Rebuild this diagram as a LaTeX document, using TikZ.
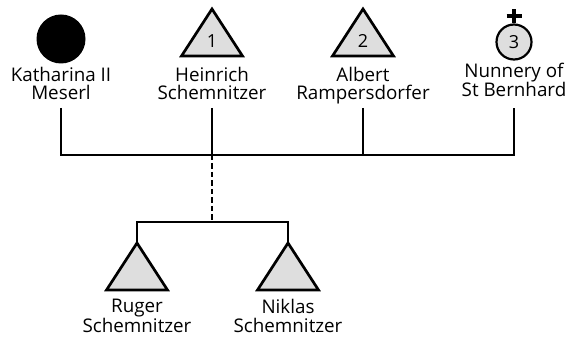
\documentclass[tikz,border=0pt]{standalone}
\usepackage{fontspec}
\setmainfont{Open Sans}
\begin{document}
\begin{tikzpicture}[x=1pt,y=-1pt,
  line/.style={line width=2.7pt},
  lbl/.style={align=center,inner sep=0pt,anchor=base,
    font=\fontsize{18.8}{18.5}\selectfont},
  num/.style={inner sep=0pt,font=\fontsize{18}{18}\selectfont},
  male/.pic={
    \draw[line width=2.7pt,line join=miter,fill=black!13]
      (0,0) coordinate (-apex) -- (30.5,47) -- (-30.5,47) -- cycle;
    \node[num] (-num) at (0,32) {\tikzpictext};
  }]
\useasboundingbox (0,0) rectangle (578,339);

% parents' generation
\node[circle,fill=black,minimum size=49pt,inner sep=0pt] (kath) at (61,39) {};
\pic[pic text=1] (hein) at (212,9) {male};
\pic[pic text=2] (albe) at (363,9) {male};
\node[circle,draw,line width=2.2pt,fill=black!13,minimum size=35pt,inner sep=0pt,
  font=\fontsize{18}{18}\selectfont] (nun) at (514,42) {3};
\draw[line width=3.8pt] (nun.north) -- ++(0,-14) coordinate (nun-top);
\draw[line width=3.8pt] ([xshift=-7.5pt,yshift=-7pt]nun-top) coordinate (cross-l)
  -- ([xshift=7.5pt,yshift=-7pt]nun-top) coordinate (cross-r);

% names (anchored at the baseline of the last line)
\node[lbl] (kath-l) at (61,100) {Katharina II\\Meserl};
\node[lbl] (hein-l) at (212,100) {Heinrich\\Schemnitzer};
\node[lbl] (albe-l) at (363,100) {Albert\\Rampersdorfer};
\node[lbl] (nun-l) at (514,97) {Nunnery of\\St Bernhard};

% marriage bar
\coordinate (bar-k) at (61,155);
\coordinate (bar-h) at (212,155);
\coordinate (bar-a) at (363,155);
\coordinate (bar-n) at (514,155);
\draw[line,line join=miter] (61,108) -- (bar-k) -- (bar-n) -- (514,108);
\draw[line] (212,108) -- (bar-h);
\draw[line] (363,108) -- (bar-a);

% children
\pic (rug) at (137,243) {male};
\pic (nik) at (288,243) {male};
\node[lbl] (rug-l) at (137,332) {Ruger\\Schemnitzer};
\node[lbl] (nik-l) at (288,332) {Niklas\\Schemnitzer};

\coordinate (sib) at (212,222);
\draw[line,dash pattern=on 5.5pt off 3pt] (bar-h) -- (sib);
\draw[line,line join=miter] (rug-apex) -- (rug-apex |- sib) -- (nik-apex |- sib) -- (nik-apex);
\end{tikzpicture}
\end{document}
